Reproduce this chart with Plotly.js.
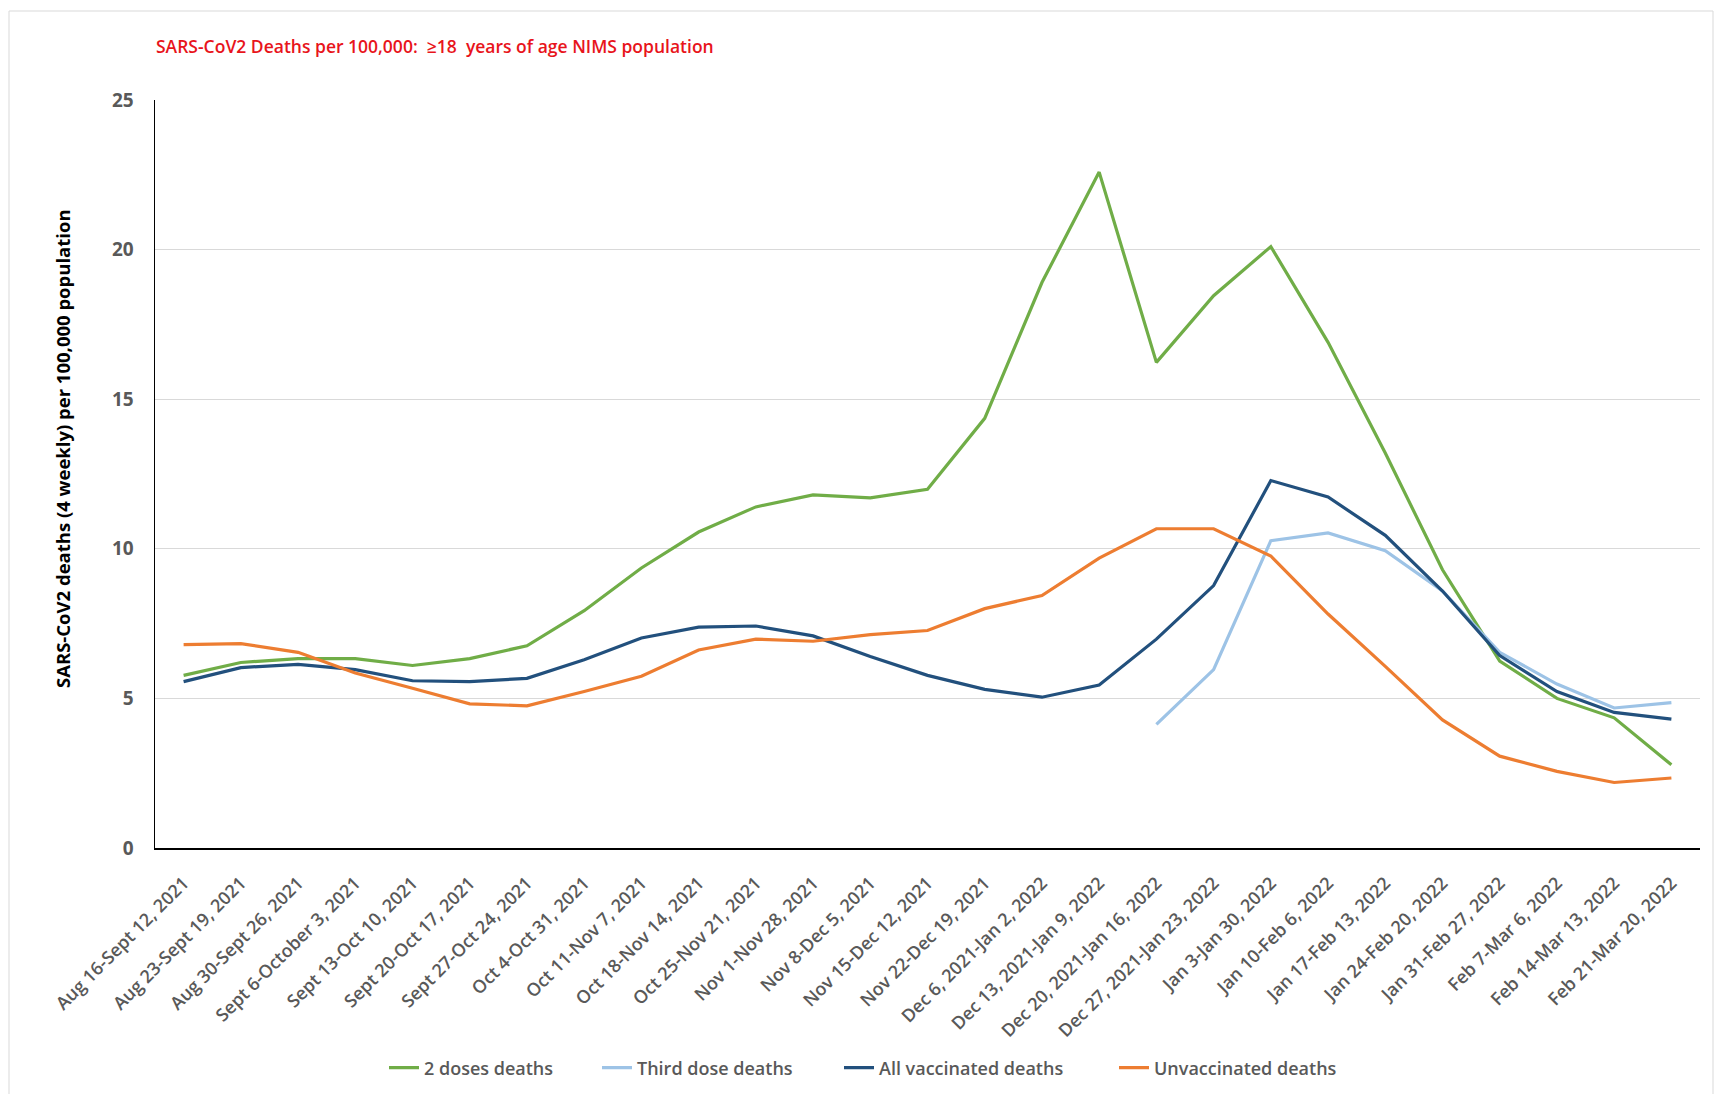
<!DOCTYPE html>
<html>
<head>
<meta charset="utf-8">
<script src="https://cdn.plot.ly/plotly-3.0.1.min.js"></script>
<style>html,body{margin:0;padding:0;background:#fff;}#chart{width:1716px;height:1094px;}</style>
</head>
<body>
<div id="chart"></div>
<script>
const categories = [
  "Aug 16-Sept 12, 2021","Aug 23-Sept 19, 2021","Aug 30-Sept 26, 2021","Sept 6-October 3, 2021",
  "Sept 13-Oct 10, 2021","Sept 20-Oct 17, 2021","Sept 27-Oct 24, 2021","Oct 4-Oct 31, 2021",
  "Oct 11-Nov 7, 2021","Oct 18-Nov 14, 2021","Oct 25-Nov 21, 2021","Nov 1-Nov 28, 2021",
  "Nov 8-Dec 5, 2021","Nov 15-Dec 12, 2021","Nov 22-Dec 19, 2021","Dec 6, 2021-Jan 2, 2022",
  "Dec 13, 2021-Jan 9, 2022","Dec 20, 2021-Jan 16, 2022","Dec 27, 2021-Jan 23, 2022","Jan 3-Jan 30, 2022",
  "Jan 10-Feb 6, 2022","Jan 17-Feb 13, 2022","Jan 24-Feb 20, 2022","Jan 31-Feb 27, 2022",
  "Feb 7-Mar 6, 2022","Feb 14-Mar 13, 2022","Feb 21-Mar 20, 2022"
];
const twoDoses = [5.77,6.2,6.33,6.33,6.1,6.33,6.76,7.93,9.36,10.56,11.4,11.8,11.7,11.99,14.36,18.9,22.59,16.23,18.46,20.1,16.9,13.2,9.3,6.25,5.0,4.35,2.78];
const thirdDose = [null,null,null,null,null,null,null,null,null,null,null,null,null,null,null,null,null,4.13,5.96,10.27,10.53,9.94,8.59,6.54,5.48,4.68,4.86];
const allVaccinated = [5.56,6.03,6.14,5.96,5.59,5.56,5.67,6.29,7.02,7.38,7.42,7.09,6.4,5.77,5.3,5.04,5.45,6.98,8.77,12.28,11.73,10.45,8.59,6.43,5.23,4.53,4.31];
const unvaccinated = [6.8,6.83,6.54,5.85,5.34,4.82,4.75,5.23,5.74,6.62,6.98,6.91,7.13,7.27,8.0,8.44,9.69,10.67,10.67,9.76,7.82,6.07,4.28,3.07,2.56,2.19,2.34];
const seriesNames = ["2 doses deaths","Third dose deaths","All vaccinated deaths","Unvaccinated deaths"];
const yTicks = [0,5,10,15,20,25];

const FONT = "Open Sans, Lato, sans-serif";
const colors = ["#70AD47","#9DC3E6","#22507D","#ED7D31"];
const vals = [twoDoses, thirdDose, allVaccinated, unvaccinated];
const legendIds = ["legend","legend2","legend3","legend4"];
const legendLeftPx = [392, 605, 847, 1122];

const traces = vals.map((v,i)=>({
  type:"scatter", mode:"lines", x:categories, y:v, name:seriesNames[i], legend:legendIds[i],
  line:{color:colors[i], width:3.2}, connectgaps:false, hoverinfo:"x+y+name"
}));

const layout = {
  width:1716, height:1094,
  margin:{l:155, r:16, t:100, b:246, autoexpand:false},
  paper_bgcolor:"#fff", plot_bgcolor:"#fff",
  showlegend:true,
  title:{text:"SARS-CoV2 Deaths per 100,000:  ≥18  years of age NIMS population",
    x:156/1716, xanchor:"left", xref:"container", y:1-47/1094, yanchor:"middle", yref:"container",
    font:{family:FONT, size:17.5, color:"#E8141B", weight:600}},
  xaxis:{type:"category", range:[-0.5,26.5], showline:true, linecolor:"#000", linewidth:1.5,
    showgrid:false, ticks:"", tickangle:-45, ticklabelstandoff:16, automargin:false,
    tickfont:{family:FONT, size:18, color:"#595959", weight:600}, fixedrange:true},
  yaxis:{range:[0,25], tickvals:yTicks, showline:true, linecolor:"#000", linewidth:1.5, automargin:false,
    showgrid:true, gridcolor:"#D9D9D9", gridwidth:1, zeroline:false, ticks:"", ticklabelstandoff:16,
    tickfont:{family:FONT, size:19, color:"#595959", weight:700}, fixedrange:true},
  annotations:[{text:"SARS-CoV2 deaths (4 weekly) per 100,000 population", textangle:-90,
    xref:"paper", yref:"paper", x:(62-155)/1545, y:(848-449)/748, xanchor:"center", yanchor:"middle",
    showarrow:false, font:{family:FONT, size:18.5, color:"#000", weight:700}}],
  shapes:[{type:"rect", xref:"paper", yref:"paper", x0:(9-155)/1545, x1:(1713-155)/1545,
    y0:(848-1110)/748, y1:(848-11)/748, line:{color:"#D9D9D9", width:1}, fillcolor:"rgba(0,0,0,0)", layer:"below"}]
};
legendIds.forEach((id,i)=>{
  layout[id] = {orientation:"h", x:(legendLeftPx[i]-8-155)/1545, xanchor:"left", y:(848-1068)/748, yanchor:"middle",
    font:{family:FONT, size:18, color:"#595959", weight:600}, itemwidth:30, bgcolor:"rgba(0,0,0,0)"};
});

Plotly.newPlot("chart", traces, layout, {displayModeBar:false, staticPlot:true});
</script>
</body>
</html>
